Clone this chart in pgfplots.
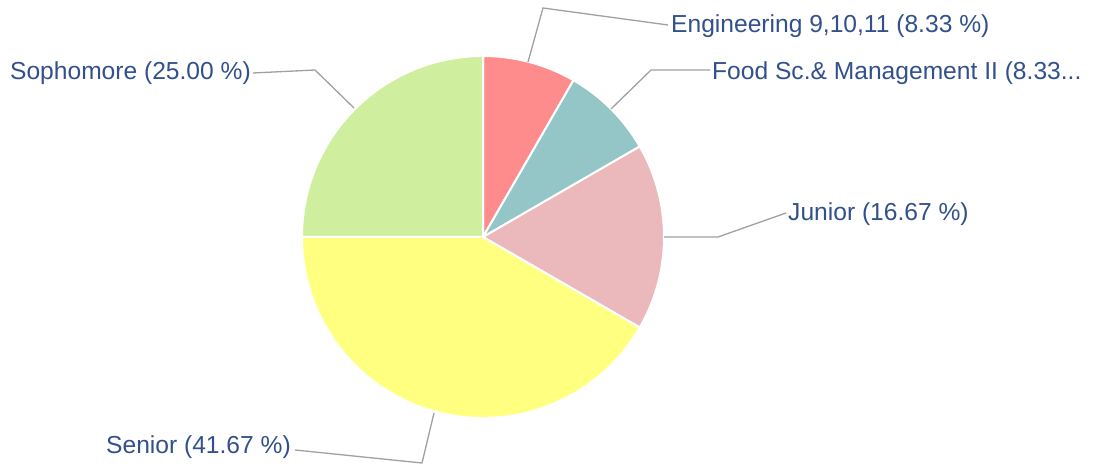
\documentclass[border=0pt]{standalone}
\usepackage{pgfplots}
\pgfplotsset{compat=1.18}
\usepackage{pgfplotstable}
\usepackage{fontspec}
\setmainfont{Liberation Sans}
\definecolor{lbl}{HTML}{32508C}
\definecolor{leader}{HTML}{A0A0A0}
\definecolor{cEng}{HTML}{FF8C8C}
\definecolor{cFood}{HTML}{94C6C7}
\definecolor{cJun}{HTML}{EBB8BB}
\definecolor{cSen}{HTML}{FFFF80}
\definecolor{cSoph}{HTML}{CFEF9F}
\pgfplotstableread{
name count
Engineering 1
Food 1
Junior 2
Senior 5
Sophomore 3
}\piedata
\pgfplotstablegetelem{0}{count}\of\piedata\let\vA\pgfplotsretval
\pgfplotstablegetelem{1}{count}\of\piedata\let\vB\pgfplotsretval
\pgfplotstablegetelem{2}{count}\of\piedata\let\vC\pgfplotsretval
\pgfplotstablegetelem{3}{count}\of\piedata\let\vD\pgfplotsretval
\pgfplotstablegetelem{4}{count}\of\piedata\let\vE\pgfplotsretval
\pgfmathsetmacro\tot{\vA+\vB+\vC+\vD+\vE}
\pgfmathsetmacro\aA{90}
\pgfmathsetmacro\aB{\aA-360*\vA/\tot}
\pgfmathsetmacro\aC{\aB-360*\vB/\tot}
\pgfmathsetmacro\aD{\aC-360*\vC/\tot}
\pgfmathsetmacro\aE{\aD-360*\vD/\tot}
\pgfmathsetmacro\aF{\aE-360*\vE/\tot}
\begin{document}
\begin{tikzpicture}
\begin{axis}[
  scale only axis, x=1pt, y=1pt,
  xmin=0, xmax=1093, ymin=0, ymax=468,
  hide axis, clip=false,
]
\pgfplotsextra{
\foreach \s/\e/\c in {\aA/\aB/cEng, \aB/\aC/cFood, \aC/\aD/cJun, \aD/\aE/cSen, \aE/\aF/cSoph}{
  \filldraw[fill=\c, draw=white, line width=2pt, line join=round]
    (axis cs:483,231) -- ++(\s:181pt) arc[start angle=\s, end angle=\e, radius=181pt] -- cycle;
}
}
\addplot[leader, line width=1.3pt, mark=none] coordinates {(528,406) (543,460) (668,443)};
\addplot[leader, line width=1.3pt, mark=none] coordinates {(611,359) (651,398) (710,398)};
\addplot[leader, line width=1.3pt, mark=none] coordinates {(664,231) (718,231) (786,255)};
\addplot[leader, line width=1.3pt, mark=none] coordinates {(434,55) (422,5) (295,18)};
\addplot[leader, line width=1.3pt, mark=none] coordinates {(354,360) (315,398) (253,395)};
\begin{scope}[every node/.style={inner sep=0pt, text=lbl, font=\fontsize{24.6}{29}\selectfont}]
\node[anchor=west] at (axis cs:671,442) {Engineering 9,10,11 (8.33 \%)};
\node[anchor=west] at (axis cs:712,395) {Food Sc.\& Management II (8.33...};
\node[anchor=west] at (axis cs:788,254) {Junior (16.67 \%)};
\node[anchor=east] at (axis cs:251,395) {Sophomore (25.00 \%)};
\node[anchor=east] at (axis cs:291,21) {Senior (41.67 \%)};
\end{scope}
\end{axis}
\pgfresetboundingbox
\path[use as bounding box] (current axis.south west) rectangle (current axis.north east);
\end{tikzpicture}
\end{document}
